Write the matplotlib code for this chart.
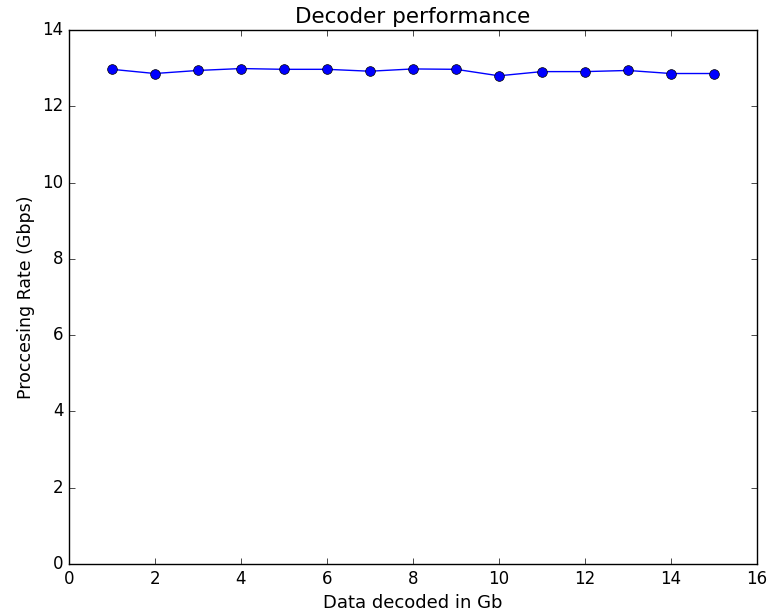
import matplotlib
matplotlib.use("Agg")
import matplotlib.pyplot as plt

# data
data_gb = [1, 2, 3, 4, 5, 6, 7, 8, 9, 10, 11, 12, 13, 14, 15]
rate_gbps = [12.97, 12.86, 12.94, 12.99, 12.97, 12.97, 12.92, 12.98,
             12.97, 12.80, 12.91, 12.91, 12.94, 12.86, 12.86]

plt.style.use("classic")
fig = plt.figure(figsize=(7.82, 6.13), dpi=100, facecolor="white")
ax = fig.add_axes([0.088, 0.080, 0.880, 0.871])

ax.plot(data_gb, rate_gbps, "bo-", linewidth=1, markersize=7)
ax.set_xlim(0, 16)
ax.set_ylim(0, 14)
ax.set_title("Decoder performance", fontsize=15.5)
ax.set_xlabel("Data decoded in Gb", fontsize=13)
ax.set_ylabel("Proccesing Rate (Gbps)", fontsize=12.5)
ax.tick_params(labelsize=12)

fig.savefig("out.png", dpi=100, facecolor="white")
